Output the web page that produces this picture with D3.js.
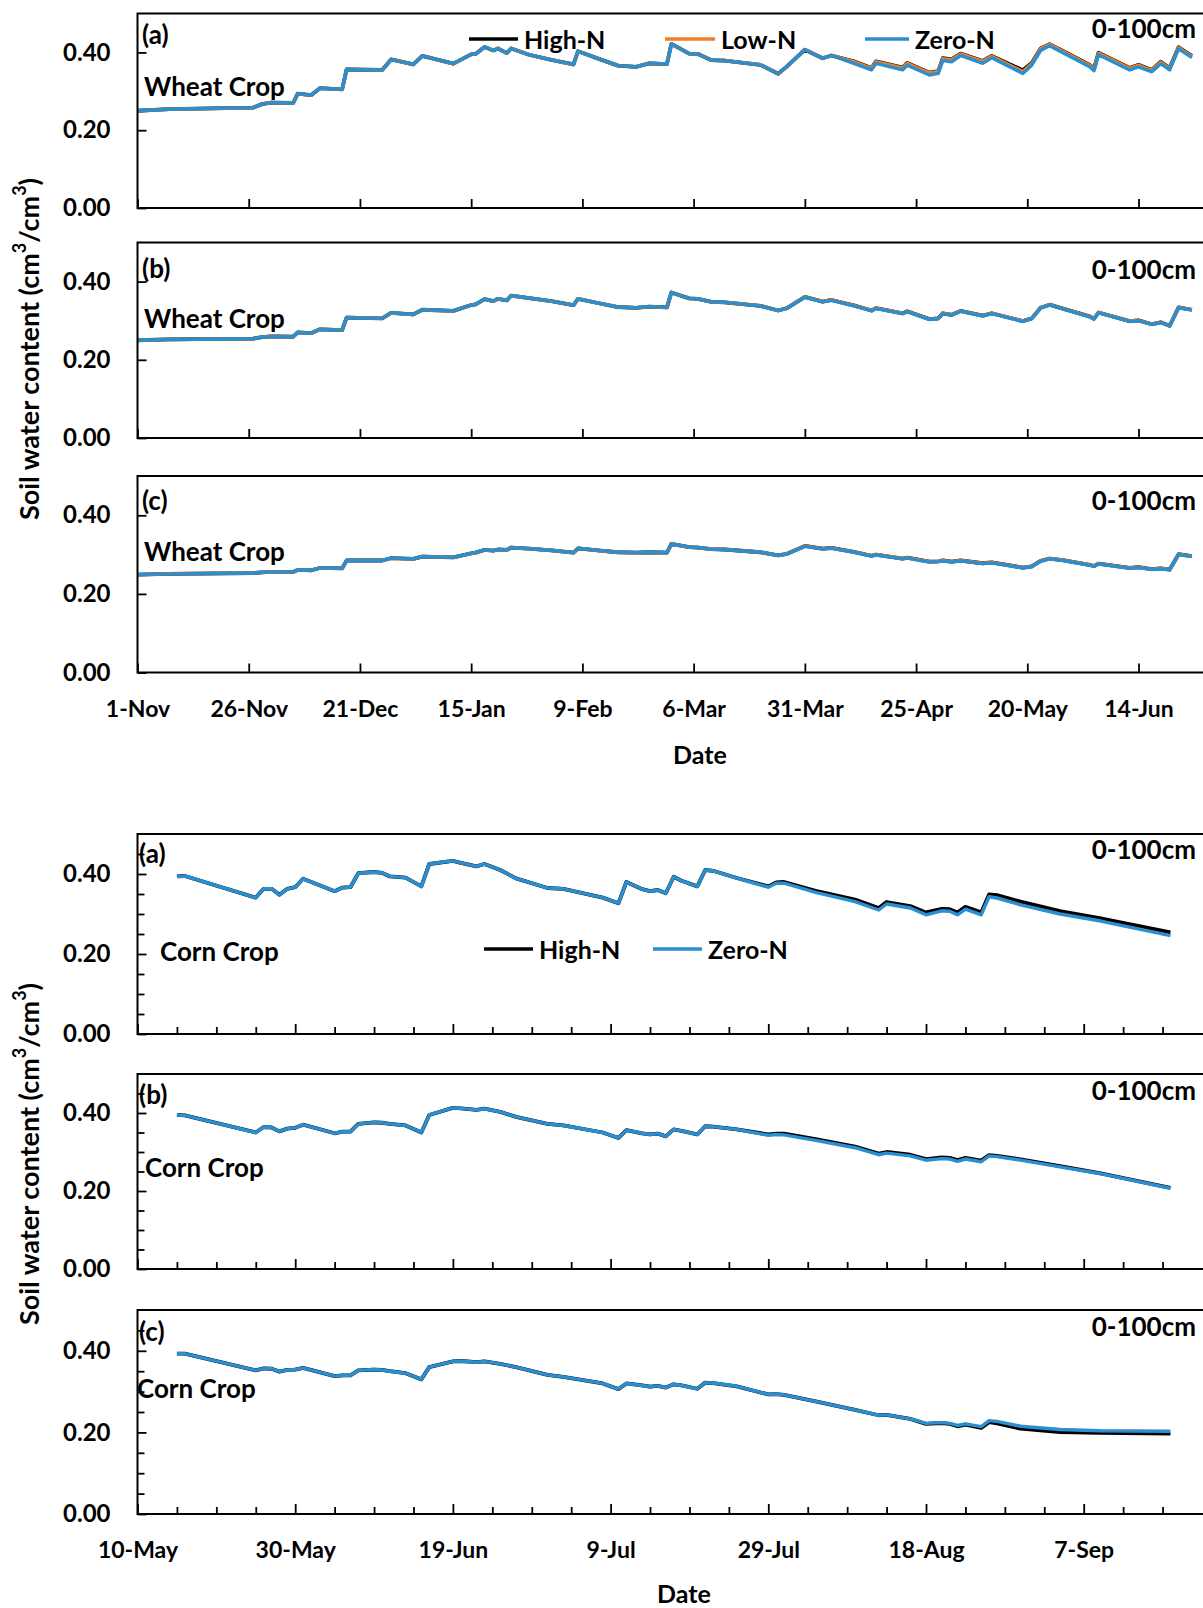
<!DOCTYPE html>
<html>
<head>
<meta charset="utf-8">
<script src="https://cdn.jsdelivr.net/npm/d3@7"></script>
<style>
body { margin: 0; background: #fff }
</style>
</head>
<body>
<svg width="1203" height="1608"></svg>
<script>
// ---- data (days counted from the first axis date) ----
var wheatDays = [0, 7, 26, 28, 30, 35, 36, 39, 41, 46, 47, 55, 57, 62, 64, 71, 75, 76, 78, 80,
    81, 83, 84, 88, 93, 98, 99, 104, 108, 112, 115, 119, 120, 124, 126, 129, 132, 140, 144, 146,
    150, 154, 156, 161, 165, 166, 172, 173, 178, 180, 181, 183, 185, 190, 192, 199, 201, 203, 205, 208,
    214, 215, 216, 223, 225, 228, 230, 232, 234, 237]

var wheatZeroA = [0.250, 0.254, 0.258, 0.267, 0.271, 0.270, 0.294, 0.290, 0.308, 0.305,
    0.356, 0.355, 0.382, 0.369, 0.391, 0.371, 0.395, 0.396, 0.414, 0.405,
    0.410, 0.398, 0.410, 0.394, 0.381, 0.369, 0.403, 0.382, 0.366, 0.363,
    0.372, 0.370, 0.422, 0.397, 0.396, 0.380, 0.379, 0.368, 0.345, 0.364,
    0.407, 0.385, 0.392, 0.372, 0.355, 0.372, 0.355, 0.367, 0.342, 0.346,
    0.379, 0.376, 0.392, 0.372, 0.386, 0.346, 0.367, 0.405, 0.417, 0.399,
    0.363, 0.353, 0.394, 0.355, 0.363, 0.350, 0.371, 0.355, 0.409, 0.387]
var wheatLowA = [0.250, 0.254, 0.258, 0.267, 0.271, 0.270, 0.294, 0.290, 0.308, 0.305,
    0.356, 0.355, 0.382, 0.369, 0.391, 0.371, 0.395, 0.396, 0.414, 0.405,
    0.410, 0.398, 0.410, 0.394, 0.381, 0.369, 0.403, 0.382, 0.366, 0.363,
    0.372, 0.370, 0.422, 0.397, 0.396, 0.380, 0.379, 0.368, 0.345, 0.364,
    0.407, 0.385, 0.392, 0.376, 0.359, 0.376, 0.360, 0.372, 0.347, 0.351,
    0.384, 0.381, 0.396, 0.377, 0.390, 0.351, 0.371, 0.409, 0.421, 0.403,
    0.367, 0.357, 0.398, 0.359, 0.367, 0.354, 0.375, 0.359, 0.412, 0.390]
var wheatHighA = [0.250, 0.254, 0.258, 0.267, 0.271, 0.270, 0.294, 0.290, 0.308, 0.305,
    0.356, 0.355, 0.382, 0.369, 0.391, 0.371, 0.395, 0.396, 0.414, 0.405,
    0.410, 0.398, 0.410, 0.394, 0.381, 0.369, 0.403, 0.382, 0.366, 0.363,
    0.372, 0.370, 0.422, 0.397, 0.396, 0.380, 0.379, 0.368, 0.345, 0.364,
    0.407, 0.385, 0.392, 0.377, 0.360, 0.377, 0.361, 0.373, 0.348, 0.352,
    0.385, 0.382, 0.397, 0.378, 0.391, 0.354, 0.373, 0.410, 0.421, 0.404,
    0.368, 0.358, 0.399, 0.360, 0.368, 0.355, 0.376, 0.360, 0.413, 0.391]

var wheatZeroB = [0.250, 0.252, 0.254, 0.258, 0.260, 0.259, 0.270, 0.268, 0.278, 0.276,
    0.308, 0.306, 0.320, 0.316, 0.328, 0.325, 0.340, 0.342, 0.355, 0.350,
    0.356, 0.352, 0.364, 0.358, 0.350, 0.340, 0.356, 0.344, 0.335, 0.333,
    0.336, 0.334, 0.372, 0.357, 0.356, 0.348, 0.347, 0.338, 0.326, 0.332,
    0.360, 0.348, 0.352, 0.338, 0.325, 0.331, 0.318, 0.323, 0.303, 0.305,
    0.318, 0.314, 0.324, 0.312, 0.318, 0.298, 0.305, 0.332, 0.340, 0.330,
    0.310, 0.304, 0.320, 0.298, 0.300, 0.290, 0.295, 0.286, 0.333, 0.327]
var wheatLowB = [0.250, 0.252, 0.254, 0.258, 0.260, 0.259, 0.270, 0.268, 0.278, 0.276,
    0.308, 0.306, 0.320, 0.316, 0.328, 0.325, 0.340, 0.342, 0.355, 0.350,
    0.356, 0.352, 0.364, 0.358, 0.350, 0.340, 0.356, 0.344, 0.335, 0.333,
    0.336, 0.334, 0.372, 0.357, 0.356, 0.348, 0.347, 0.338, 0.326, 0.332,
    0.361, 0.349, 0.353, 0.339, 0.326, 0.332, 0.319, 0.324, 0.304, 0.306,
    0.319, 0.315, 0.325, 0.313, 0.319, 0.299, 0.306, 0.333, 0.341, 0.331,
    0.311, 0.305, 0.321, 0.299, 0.301, 0.291, 0.296, 0.287, 0.334, 0.328]
var wheatHighB = [0.250, 0.252, 0.254, 0.258, 0.260, 0.259, 0.270, 0.268, 0.278, 0.276,
    0.308, 0.306, 0.320, 0.316, 0.328, 0.325, 0.340, 0.342, 0.355, 0.350,
    0.356, 0.352, 0.364, 0.358, 0.350, 0.340, 0.356, 0.344, 0.335, 0.333,
    0.336, 0.334, 0.372, 0.357, 0.356, 0.348, 0.347, 0.338, 0.326, 0.332,
    0.361, 0.349, 0.353, 0.339, 0.326, 0.332, 0.319, 0.324, 0.304, 0.306,
    0.319, 0.315, 0.325, 0.313, 0.319, 0.299, 0.306, 0.333, 0.341, 0.331,
    0.311, 0.305, 0.321, 0.299, 0.301, 0.291, 0.296, 0.287, 0.334, 0.328]

var wheatZeroC = [0.249, 0.251, 0.253, 0.255, 0.256, 0.256, 0.261, 0.260, 0.266, 0.265,
    0.285, 0.285, 0.291, 0.289, 0.295, 0.293, 0.303, 0.305, 0.312, 0.310,
    0.313, 0.312, 0.318, 0.315, 0.311, 0.305, 0.316, 0.310, 0.306, 0.305,
    0.306, 0.305, 0.327, 0.319, 0.318, 0.314, 0.313, 0.306, 0.298, 0.302,
    0.321, 0.314, 0.316, 0.306, 0.296, 0.299, 0.289, 0.291, 0.281, 0.282,
    0.284, 0.281, 0.284, 0.277, 0.279, 0.266, 0.269, 0.283, 0.289, 0.285,
    0.273, 0.270, 0.276, 0.265, 0.267, 0.262, 0.264, 0.261, 0.300, 0.295]
var wheatLowC = [0.249, 0.251, 0.253, 0.255, 0.256, 0.256, 0.261, 0.260, 0.266, 0.265,
    0.285, 0.285, 0.291, 0.289, 0.295, 0.293, 0.303, 0.305, 0.312, 0.310,
    0.313, 0.312, 0.318, 0.315, 0.311, 0.305, 0.316, 0.310, 0.306, 0.305,
    0.306, 0.305, 0.327, 0.319, 0.318, 0.314, 0.313, 0.306, 0.298, 0.302,
    0.322, 0.315, 0.317, 0.307, 0.297, 0.300, 0.290, 0.292, 0.282, 0.283,
    0.285, 0.282, 0.285, 0.278, 0.280, 0.267, 0.270, 0.284, 0.290, 0.286,
    0.274, 0.271, 0.277, 0.266, 0.268, 0.263, 0.265, 0.262, 0.301, 0.296]
var wheatHighC = [0.249, 0.251, 0.253, 0.255, 0.256, 0.256, 0.261, 0.260, 0.266, 0.265,
    0.285, 0.285, 0.291, 0.289, 0.295, 0.293, 0.303, 0.305, 0.312, 0.310,
    0.313, 0.312, 0.318, 0.315, 0.311, 0.305, 0.316, 0.310, 0.306, 0.305,
    0.306, 0.305, 0.327, 0.319, 0.318, 0.314, 0.313, 0.306, 0.298, 0.302,
    0.322, 0.315, 0.317, 0.307, 0.297, 0.300, 0.290, 0.292, 0.282, 0.283,
    0.285, 0.282, 0.285, 0.278, 0.280, 0.267, 0.270, 0.284, 0.290, 0.286,
    0.274, 0.271, 0.277, 0.266, 0.268, 0.263, 0.265, 0.262, 0.301, 0.296]

var cornDays = [5, 6, 15, 16, 17, 18, 19, 20, 21, 25, 26, 27, 28, 30, 31, 32, 34, 36, 37, 40,
    41, 43, 44, 46, 48, 52, 54, 59, 61, 62, 64, 65, 66, 67, 68, 69, 71, 72, 73, 76,
    80, 81, 82, 86, 91, 94, 95, 98, 100, 102, 103, 104, 105, 107, 108, 109, 112, 117, 122, 131]

var cornZeroA = [0.394, 0.395, 0.341, 0.363, 0.363, 0.348, 0.363, 0.367, 0.388, 0.357,
    0.366, 0.367, 0.402, 0.405, 0.403, 0.394, 0.391, 0.369, 0.425, 0.433,
    0.428, 0.419, 0.425, 0.410, 0.389, 0.365, 0.363, 0.341, 0.327, 0.380,
    0.362, 0.357, 0.360, 0.352, 0.393, 0.383, 0.369, 0.410, 0.408, 0.390,
    0.367, 0.377, 0.377, 0.354, 0.331, 0.310, 0.325, 0.315, 0.298, 0.308,
    0.307, 0.298, 0.312, 0.298, 0.343, 0.340, 0.323, 0.300, 0.283, 0.246]
var cornHighA = [0.394, 0.395, 0.341, 0.363, 0.363, 0.348, 0.363, 0.367, 0.388, 0.357,
    0.366, 0.367, 0.402, 0.405, 0.403, 0.394, 0.391, 0.369, 0.425, 0.433,
    0.428, 0.419, 0.425, 0.410, 0.389, 0.365, 0.363, 0.341, 0.327, 0.380,
    0.362, 0.357, 0.360, 0.352, 0.393, 0.383, 0.369, 0.410, 0.408, 0.390,
    0.369, 0.379, 0.380, 0.358, 0.336, 0.315, 0.330, 0.320, 0.304, 0.313,
    0.312, 0.304, 0.318, 0.304, 0.349, 0.347, 0.331, 0.307, 0.290, 0.254]

var cornZeroB = [0.395, 0.394, 0.350, 0.364, 0.363, 0.353, 0.360, 0.362, 0.370, 0.348,
    0.352, 0.352, 0.372, 0.376, 0.375, 0.372, 0.368, 0.350, 0.395, 0.413,
    0.412, 0.408, 0.411, 0.403, 0.390, 0.372, 0.368, 0.350, 0.336, 0.356,
    0.348, 0.345, 0.347, 0.340, 0.358, 0.354, 0.345, 0.366, 0.365, 0.358,
    0.343, 0.345, 0.344, 0.330, 0.311, 0.293, 0.297, 0.290, 0.279, 0.283,
    0.282, 0.276, 0.282, 0.275, 0.290, 0.288, 0.279, 0.262, 0.245, 0.207]
var cornHighB = [0.395, 0.394, 0.350, 0.364, 0.363, 0.353, 0.360, 0.362, 0.370, 0.348,
    0.352, 0.352, 0.372, 0.376, 0.375, 0.372, 0.368, 0.350, 0.395, 0.413,
    0.412, 0.408, 0.411, 0.403, 0.390, 0.372, 0.368, 0.350, 0.336, 0.356,
    0.348, 0.345, 0.347, 0.340, 0.358, 0.354, 0.345, 0.366, 0.365, 0.358,
    0.345, 0.347, 0.347, 0.333, 0.314, 0.296, 0.300, 0.293, 0.282, 0.286,
    0.285, 0.279, 0.285, 0.278, 0.292, 0.290, 0.281, 0.264, 0.246, 0.208]

var cornZeroC = [0.393, 0.393, 0.352, 0.357, 0.356, 0.349, 0.353, 0.354, 0.358, 0.338,
    0.340, 0.340, 0.352, 0.354, 0.353, 0.350, 0.345, 0.330, 0.360, 0.374,
    0.375, 0.372, 0.374, 0.368, 0.360, 0.341, 0.336, 0.320, 0.306, 0.320,
    0.315, 0.312, 0.314, 0.310, 0.318, 0.315, 0.307, 0.322, 0.321, 0.313,
    0.293, 0.294, 0.292, 0.276, 0.255, 0.242, 0.243, 0.233, 0.222, 0.224,
    0.222, 0.217, 0.221, 0.214, 0.229, 0.227, 0.215, 0.207, 0.204, 0.203]
var cornHighC = [0.393, 0.393, 0.352, 0.357, 0.356, 0.349, 0.353, 0.354, 0.358, 0.338,
    0.340, 0.340, 0.352, 0.354, 0.353, 0.350, 0.345, 0.330, 0.360, 0.374,
    0.375, 0.372, 0.374, 0.368, 0.360, 0.341, 0.336, 0.320, 0.306, 0.320,
    0.315, 0.312, 0.314, 0.310, 0.318, 0.315, 0.307, 0.322, 0.321, 0.313,
    0.293, 0.294, 0.292, 0.276, 0.255, 0.242, 0.243, 0.233, 0.221, 0.223,
    0.221, 0.215, 0.219, 0.211, 0.225, 0.222, 0.209, 0.201, 0.199, 0.197]

// axis ticks
var yTicks = [0, 0.2, 0.4]
var yTickLabels = ["0.00", "0.20", "0.40"]
var cornYMinor = [0.05, 0.10, 0.15, 0.25, 0.30, 0.35, 0.45]
var wheatTickDays = [0, 25, 50, 75, 100, 125, 150, 175, 200, 225]
var wheatTickLabels = ["1-Nov", "26-Nov", "21-Dec", "15-Jan", "9-Feb", "6-Mar", "31-Mar", "25-Apr", "20-May", "14-Jun"]
var cornTickDays = [0, 20, 40, 60, 80, 100, 120]
var cornTickLabels = ["10-May", "30-May", "19-Jun", "9-Jul", "29-Jul", "18-Aug", "7-Sep"]
var cornMinorDays = [5, 10, 15, 25, 30, 35, 45, 50, 55, 65, 70, 75, 85, 90, 95, 105, 110, 115, 125, 130]

var black = "#000000", orange = "#F07E26", blue = "#2A8FD0"
var font = "Lato, 'Open Sans', sans-serif"

var svg = d3.select("svg")
svg.append("rect").attr("width", 1203).attr("height", 1608).attr("fill", "#fff")

var left = 137.5
var wheatStart = new Date(2014, 10, 1)
var cornStart = new Date(2015, 4, 10)
var wheatX = d3.scaleTime()
    .domain([wheatStart, d3.timeDay.offset(wheatStart, 240)])
    .range([left, left + 240*4.449])
var cornX = d3.scaleTime()
    .domain([cornStart, d3.timeDay.offset(cornStart, 136)])
    .range([left, left + 136*7.885])

function txt(x, y, s, size, anchor) {
    return svg.append("text")
        .attr("x", x).attr("y", y)
        .attr("dominant-baseline", "central")
        .attr("text-anchor", anchor || "start")
        .attr("font-family", font).attr("font-weight", "bold")
        .attr("font-size", size)
        .text(s)
}

function styleAxis(a, size) {
    a.select(".domain").remove()
    a.attr("font-family", font).attr("font-size", size).attr("font-weight", "bold")
    a.selectAll("line").attr("stroke", "#000").attr("stroke-width", 1.8)
    a.selectAll("text").attr("fill", "#000")
}

function drawPanel(p) {
    var x = p.x
    var y = d3.scaleLinear().domain([0, 0.5]).range([p.bottom, p.top])
    var g = svg.append("g")

    var line = d3.line()
        .x(function(d) { return x(d3.timeDay.offset(p.start, d[0])) })
        .y(function(d) { return y(d[1]) })
    p.series.forEach(function(s) {
        g.append("path")
            .datum(d3.zip(p.days, s.values))
            .attr("d", line)
            .attr("fill", "none")
            .attr("stroke", s.color)
            .attr("stroke-width", s.width)
            .attr("stroke-linejoin", "round")
    })

    // y axis, ticks point inward
    g.append("g").attr("transform", "translate(" + left + ",0)")
        .call(d3.axisLeft(y).tickValues(yTicks).tickSize(-9).tickPadding(27)
            .tickFormat(function(d, i) { return yTickLabels[i] }))
        .call(styleAxis, 24)
    if (p.yMinor) {
        g.append("g").attr("transform", "translate(" + left + ",0)")
            .call(d3.axisLeft(y).tickValues(p.yMinor).tickSize(-7).tickFormat(""))
            .call(styleAxis, 24)
    }

    // x axis
    var major = p.tickDays.map(function(d) { return d3.timeDay.offset(p.start, d) })
    g.append("g").attr("transform", "translate(0," + p.bottom + ")")
        .call(d3.axisBottom(x).tickValues(major).tickSize(-p.majorLen).tickPadding(28)
            .tickFormat(function(d, i) { return p.showLabels ? p.tickLabels[i] : "" }))
        .call(styleAxis, 23)
    if (p.minorDays) {
        var minor = p.minorDays.map(function(d) { return d3.timeDay.offset(p.start, d) })
        g.append("g").attr("transform", "translate(0," + p.bottom + ")")
            .call(d3.axisBottom(x).tickValues(minor).tickSize(-7).tickFormat(""))
            .call(styleAxis, 23)
    }

    // frame
    g.append("rect")
        .attr("x", left).attr("y", p.top)
        .attr("width", x.range()[1] - left).attr("height", p.bottom - p.top)
        .attr("fill", "none").attr("stroke", "#000").attr("stroke-width", 2)

    txt(p.tagX, p.tagY, p.tag, 26)
    txt(p.cropX, p.cropY, p.crop, 26)
    txt(1196, p.depthY, "0-100cm", 26, "end")
}

function wheatSeries(h, l, z) {
    return [
        { color: black, width: 3.8, values: h },
        { color: orange, width: 3.5, values: l },
        { color: blue, width: 3.4, values: z }
    ]
}
function cornSeries(h, z) {
    return [
        { color: black, width: 3.8, values: h },
        { color: blue, width: 3.4, values: z }
    ]
}

var wheatPanels = [
    { top: 13.5, bottom: 208, tag: "(a)", tagY: 34, cropY: 86, depthY: 28, series: wheatSeries(wheatHighA, wheatLowA, wheatZeroA) },
    { top: 242.5, bottom: 438, tag: "(b)", tagY: 268, cropY: 318, depthY: 269, series: wheatSeries(wheatHighB, wheatLowB, wheatZeroB) },
    { top: 476, bottom: 672.5, tag: "(c)", tagY: 500, cropY: 551, depthY: 500, series: wheatSeries(wheatHighC, wheatLowC, wheatZeroC), showLabels: true }
]
wheatPanels.forEach(function(p) {
    p.x = wheatX; p.start = wheatStart; p.days = wheatDays
    p.tickDays = wheatTickDays; p.tickLabels = wheatTickLabels; p.majorLen = 9
    p.tagX = 142; p.cropX = 144; p.crop = "Wheat Crop"
    drawPanel(p)
})

var cornPanels = [
    { top: 834, bottom: 1034, tag: "(a)", tagY: 853, cropX: 160, cropY: 951, depthY: 849, series: cornSeries(cornHighA, cornZeroA) },
    { top: 1074, bottom: 1269, tag: "(b)", tagY: 1094, cropX: 145, cropY: 1167, depthY: 1090, series: cornSeries(cornHighB, cornZeroB) },
    { top: 1310, bottom: 1514, tag: "(c)", tagY: 1331, cropX: 137, cropY: 1388, depthY: 1326, series: cornSeries(cornHighC, cornZeroC), showLabels: true }
]
cornPanels.forEach(function(p) {
    p.x = cornX; p.start = cornStart; p.days = cornDays
    p.tickDays = cornTickDays; p.tickLabels = cornTickLabels; p.majorLen = 10
    p.minorDays = cornMinorDays; p.yMinor = cornYMinor
    p.tagX = 139; p.crop = "Corn Crop"
    drawPanel(p)
})

// legends
function legend(y, items) {
    items.forEach(function(it) {
        svg.append("line")
            .attr("x1", it.x1).attr("x2", it.x2).attr("y1", y).attr("y2", y)
            .attr("stroke", it.color).attr("stroke-width", 3.4)
        txt(it.x2 + 6, y, it.name, 25)
    })
}
legend(39, [
    { x1: 469, x2: 518, color: black, name: "High-N" },
    { x1: 665, x2: 715, color: orange, name: "Low-N" },
    { x1: 865, x2: 909, color: blue, name: "Zero-N" }
])
legend(949, [
    { x1: 484, x2: 533, color: black, name: "High-N" },
    { x1: 653, x2: 702, color: blue, name: "Zero-N" }
])

// axis titles
txt(700, 754, "Date", 25, "middle")
txt(684, 1593, "Date", 25, "middle")

function yTitle(cy) {
    var t = svg.append("text")
        .attr("transform", "translate(28," + cy + ") rotate(-90)")
        .attr("text-anchor", "middle")
        .attr("dominant-baseline", "central")
        .attr("font-family", font).attr("font-weight", "bold")
        .attr("font-size", 27)
    t.append("tspan").text("Soil water content (cm")
    t.append("tspan").attr("dy", -9).attr("font-size", 18).text("3")
    t.append("tspan").attr("dy", 9).text("/cm")
    t.append("tspan").attr("dy", -9).attr("font-size", 18).text("3")
    t.append("tspan").attr("dy", 9).text(")")
}
yTitle(349)
yTitle(1154)
</script>
</body>
</html>
